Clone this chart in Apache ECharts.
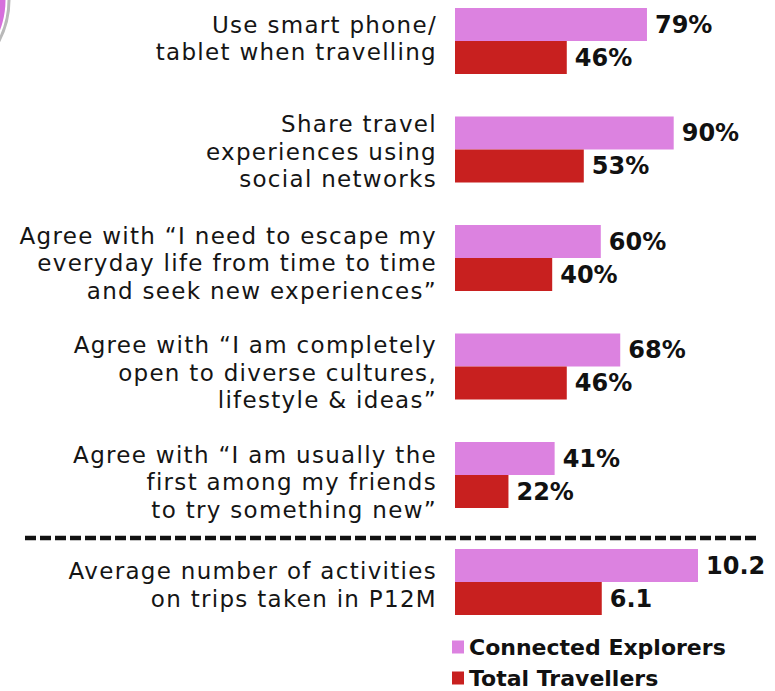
<!DOCTYPE html>
<html>
<head>
<meta charset="utf-8">
<script src="https://cdn.jsdelivr.net/npm/echarts@6/dist/echarts.min.js"></script>
<style>
  html, body { margin: 0; padding: 0; background: #ffffff; }
  #chart { width: 775px; height: 691px; }
  /* the regular-weight category text is set a little looser than the bold figures */
  #chart text { letter-spacing: 1.3px; }
  #chart text[style*="bold"], #chart text[font-weight="bold"] { letter-spacing: 0; }
</style>
</head>
<body>
<div id="chart"></div>
<script>
// Attitude statements (percent of respondents)
const statements = [
  'Use smart phone/\ntablet when travelling',
  'Share travel\nexperiences using\nsocial networks',
  'Agree with \u201cI need to escape my\neveryday life from time to time\nand seek new experiences\u201d',
  'Agree with \u201cI am completely\nopen to diverse cultures,\nlifestyle & ideas\u201d',
  'Agree with \u201cI am usually the\nfirst among my friends\nto try something new\u201d'
];
const explorersPct = [79, 90, 60, 68, 41];
const travellersPct = [46, 53, 40, 46, 22];

// Activity count measure (separate scale)
const activityLabel = ['Average number of activities\non trips taken in P12M'];
const explorersActivities = [10.2];
const travellersActivities = [6.1];

const seriesNames = ['Connected Explorers', 'Total Travellers'];

// Layout: vertical nudge (px, + = down) for each category caption
const statementNudge = [-2.5, 2, 5, 6, 7];
const activityNudge = [3];

const PINK = '#dc82e0';
const RED = '#c8201f';
const FONT = 'DejaVu Sans';

// A caption is middle-aligned on its band, so an empty spacer line of
// height 2d above (or below) it moves the text down (or up) by d.
function spacerRich(nudges) {
  const rich = {};
  nudges.forEach((d, i) => {
    rich['sp' + i] = { lineHeight: Math.abs(2 * d), fontSize: 1 };
  });
  return rich;
}
function nudgedFormatter(nudges) {
  return (value, index) => {
    const d = nudges[index] || 0;
    if (d > 0) return '{sp' + index + '| }\n' + value;
    if (d < 0) return value + '\n{sp' + index + '| }';
    return value;
  };
}

const catLabel = (nudges) => ({
  fontFamily: FONT, fontSize: 23, color: '#151515', lineHeight: 27.5,
  align: 'right', margin: 18,
  formatter: nudgedFormatter(nudges),
  rich: spacerRich(nudges)
});
const valueLabel = (fmt) => ({
  show: true, position: 'right', distance: 8,
  fontFamily: FONT, fontWeight: 'bold', fontSize: 24, color: '#111',
  formatter: fmt
});
const legendText = { fontFamily: FONT, fontWeight: 'bold', fontSize: 22, color: '#111' };

const chart = echarts.init(document.getElementById('chart'), null, { renderer: 'svg' });

chart.setOption({
  animation: false,
  backgroundColor: '#ffffff',
  grid: [
    { left: 455, width: 243, top: -13.25, height: 542.5, containLabel: false, outerBoundsMode: 'none' },
    { left: 455, width: 243, top: 527.75, height: 108.5, containLabel: false, outerBoundsMode: 'none' }
  ],
  xAxis: [
    { gridIndex: 0, type: 'value', min: 0, max: 100, show: false },
    { gridIndex: 1, type: 'value', min: 0, max: 10.1, show: false }
  ],
  yAxis: [
    {
      gridIndex: 0, type: 'category', data: statements, inverse: true,
      axisLine: { show: false }, axisTick: { show: false }, splitLine: { show: false },
      axisLabel: catLabel(statementNudge)
    },
    {
      gridIndex: 1, type: 'category', data: activityLabel, inverse: true,
      axisLine: { show: false }, axisTick: { show: false }, splitLine: { show: false },
      axisLabel: catLabel(activityNudge)
    }
  ],
  legend: [
    {
      left: 452, top: 636, icon: 'rect', itemWidth: 12, itemHeight: 13, padding: 0,
      data: [seriesNames[0]], textStyle: legendText
    },
    {
      left: 452, top: 667, icon: 'rect', itemWidth: 12, itemHeight: 13, padding: 0,
      data: [seriesNames[1]], textStyle: legendText
    }
  ],
  series: [
    {
      name: seriesNames[0], type: 'bar', xAxisIndex: 0, yAxisIndex: 0,
      data: explorersPct, barWidth: 33, barGap: '0%',
      itemStyle: { color: PINK }, label: valueLabel('{c}%')
    },
    {
      name: seriesNames[1], type: 'bar', xAxisIndex: 0, yAxisIndex: 0,
      data: travellersPct, barWidth: 33, barGap: '0%',
      itemStyle: { color: RED }, label: valueLabel('{c}%')
    },
    {
      name: seriesNames[0], type: 'bar', xAxisIndex: 1, yAxisIndex: 1,
      data: explorersActivities, barWidth: 33, barGap: '0%',
      itemStyle: { color: PINK },
      label: valueLabel(p => p.value.toFixed(1))
    },
    {
      name: seriesNames[1], type: 'bar', xAxisIndex: 1, yAxisIndex: 1,
      data: travellersActivities, barWidth: 33, barGap: '0%',
      itemStyle: { color: RED },
      label: valueLabel(p => p.value.toFixed(1))
    }
  ],
  graphic: [
    // decorative roundel peeking in at the top-left corner
    {
      type: 'circle', shape: { cx: -80, cy: 0, r: 89 },
      style: { fill: 'none', stroke: '#b9b9b9', lineWidth: 3 }, silent: true
    },
    {
      type: 'circle', shape: { cx: -80, cy: 0, r: 85.5 },
      style: { fill: '#d66fdc' }, silent: true
    },
    // dashed divider between the attitude block and the activity measure
    {
      type: 'line', shape: { x1: 25, y1: 538, x2: 758, y2: 538 },
      style: { stroke: '#111', lineWidth: 4.5, lineDash: [11, 4] }, silent: true
    }
  ]
});
</script>
</body>
</html>
